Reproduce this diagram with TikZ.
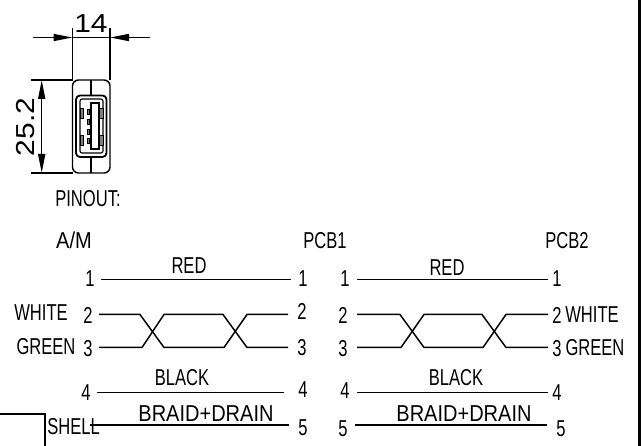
\documentclass[tikz,border=0pt]{standalone}
\usepackage{fontspec}
\setmainfont[FakeStretch=0.72]{Liberation Sans}
\newfontfamily\widefont[FakeStretch=0.87]{Liberation Sans}
\newfontfamily\dimfont[FakeStretch=1.15]{Liberation Sans}
\usetikzlibrary{arrows.meta}
\tikzset{
	lbl/.style={inner sep=0pt,font=\fontsize{23}{24}\selectfont},
	widelbl/.style={inner sep=0pt,font=\widefont\fontsize{23}{24}\selectfont},
	dimlbl/.style={inner sep=0pt,font=\dimfont\fontsize{26}{28}\selectfont},
	wire/.style={line width=1.5pt},
	thickwire/.style={line width=2.2pt},
	dimline/.style={line width=1.4pt},
	dimarrow/.style={line width=1.4pt,-{Triangle[length=19pt,width=7pt]}}
}
\begin{document}
\begin{tikzpicture}[x=1pt,y=-1pt]
	\useasboundingbox (0,0) rectangle (641,446);
	\fill (637.5,0) rectangle (641,446);

	% width dimension
	\coordinate (wl) at (72.5,80);
	\coordinate (wr) at (110,80);
	\coordinate (wla) at (72.5,37.5);
	\coordinate (wra) at (110,37.5);
	\draw[dimline] (72.5,28) -- (wl);
	\draw[dimline] (110,28) -- (wr);
	\draw[dimline] (wla) -- (wra);
	\draw[dimarrow] (33,37.5) -- (wla);
	\draw[dimarrow] (150,37.5) -- (wra);
	\node[dimlbl] (w14) at (91,24) {14};

	% height dimension
	\coordinate (hb) at (72.5,173);
	\draw[dimline] (31,80) -- (wl);
	\draw[dimline] (31,173) -- (hb);
	\draw[dimarrow] (41.7,127) -- (41.7,80);
	\draw[dimarrow] (41.7,127) -- (41.7,173);
	\node[dimlbl,rotate=90] (h25) at (26,127) {25.2};

	% connector
	\draw[dimline,rounded corners=6pt] (wl) rectangle (110,173);
	\draw[dimline] (91,80) -- (91,95);
	\draw[dimline] (91,157) -- (91,173);
	\draw[line width=1.8pt,rounded corners=4pt] (76,95.5) rectangle (106.5,157);
	\draw[line width=1.1pt,rounded corners=2pt] (80,99) rectangle (103,153);
	\draw[line width=2pt] (91,103.5) rectangle (98.5,149.5);
	\foreach \y in {108,135}{
		\draw[line width=.8pt,fill=gray] (80,\y) rectangle (83,\y+10);
		\draw[line width=.8pt,fill=gray] (99.5,\y) rectangle (103,\y+10);
	}
	\foreach \y in {109,119,129,138}
		\draw[line width=.8pt,fill=gray] (87,\y) rectangle (89.5,\y+5);

	\node[lbl] (pinout) at (88,199) {PINOUT:};

	% headers
	\node[widelbl] (am) at (74,240) {A/M};
	\node[lbl] (pcba) at (325,241) {PCB1};
	\node[lbl] (pcbb) at (567,241) {PCB2};

	% left harness
	\node[lbl] (la1) at (90,279) {1};
	\node[lbl] (la2) at (88,315) {2};
	\node[lbl] (la3) at (88,349) {3};
	\node[lbl] (la4) at (86,393) {4};
	\node[lbl] (lshell) at (73.5,427) {SHELL};
	\node[lbl] (lwhite) at (41,313) {WHITE};
	\node[lbl] (lgreen) at (46,347) {GREEN};
	\node[lbl] (ra1) at (303,279) {1};
	\node[lbl] (ra2) at (302,311) {2};
	\node[lbl] (ra3) at (302,348) {3};
	\node[lbl] (ra4) at (303,390) {4};
	\node[lbl] (ra5) at (303,428) {5};
	\node[lbl] (tred) at (189,266) {RED};
	\node[lbl] (tblack) at (182,378) {BLACK};
	\node[widelbl] (tbraid) at (206,414) {BRAID+DRAIN};

	\coordinate (as1) at (101,279.5);
	\coordinate (ae1) at (291,279.5);
	\coordinate (as2) at (99,314.5);
	\coordinate (ae2) at (288,314.5);
	\coordinate (as3) at (99,347.5);
	\coordinate (ae3) at (288,347.5);
	\coordinate (as4) at (97,392.5);
	\coordinate (ae4) at (284,392.5);
	\coordinate (as5) at (90,425);
	\coordinate (ae5) at (289,425);
	\draw[wire] (as1) -- (ae1);
	\draw[wire] (as2) -- (140,314.5) -- (164,347.5) -- (224,347.5) -- (247,314.5) -- (ae2);
	\draw[wire] (as3) -- (142,347.5) -- (164,314.5) -- (223,314.5) -- (247,347.5) -- (ae3);
	\draw[wire] (as4) -- (ae4);
	\draw[thickwire] (as5) -- (ae5);
	\draw[wire] (0,414) -- (45,414) -- (45,446);

	% right harness
	\node[lbl] (lb1) at (345,279) {1};
	\node[lbl] (lb2) at (343,315) {2};
	\node[lbl] (lb3) at (343,349) {3};
	\node[lbl] (lb4) at (345,391) {4};
	\node[lbl] (lb5) at (343,429) {5};
	\node[lbl] (rb1) at (557,279) {1};
	\node[lbl] (rb2) at (557,315) {2};
	\node[lbl] (rb3) at (557,349) {3};
	\node[lbl] (rb4) at (557,393) {4};
	\node[lbl] (rb5) at (561,429) {5};
	\node[lbl] (rwhite) at (592,315) {WHITE};
	\node[lbl] (rgreen) at (595,348) {GREEN};
	\node[lbl] (bred) at (447,268) {RED};
	\node[lbl] (bblack) at (456,378) {BLACK};
	\node[widelbl] (bbraid) at (464,414) {BRAID+DRAIN};

	\coordinate (bs1) at (357,279.5);
	\coordinate (be1) at (548,279.5);
	\coordinate (bs2) at (357,314.5);
	\coordinate (be2) at (548,314.5);
	\coordinate (bs3) at (357,347.5);
	\coordinate (be3) at (548,347.5);
	\coordinate (bs4) at (357,392.5);
	\coordinate (be4) at (548,392.5);
	\coordinate (bs5) at (355,425);
	\coordinate (be5) at (547,425);
	\draw[wire] (bs1) -- (be1);
	\draw[wire] (bs2) -- (400,314.5) -- (424,347.5) -- (483,347.5) -- (506,314.5) -- (be2);
	\draw[wire] (bs3) -- (401,347.5) -- (424,314.5) -- (482,314.5) -- (506,347.5) -- (be3);
	\draw[wire] (bs4) -- (be4);
	\draw[thickwire] (bs5) -- (be5);
\end{tikzpicture}
\end{document}
